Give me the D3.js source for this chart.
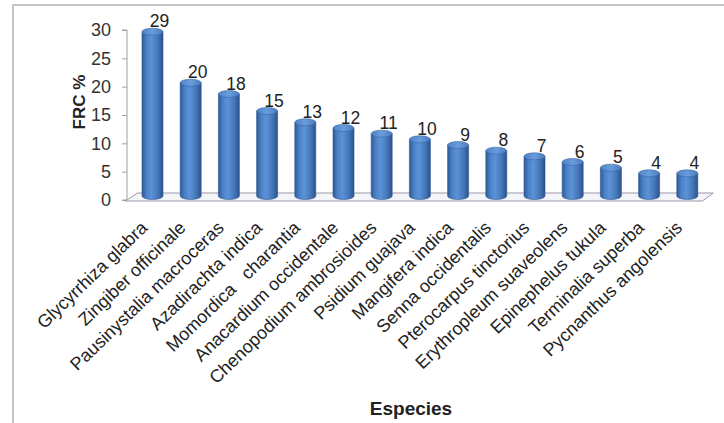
<!DOCTYPE html>
<html>
<head>
<meta charset="utf-8">
<script src="https://cdn.jsdelivr.net/npm/d3@7"></script>
<style>
  html, body { margin: 0; padding: 0; background: #fff; }
  svg { display: block; font-family: "Liberation Sans", Arial, sans-serif; }
</style>
</head>
<body>
<svg id="chart" width="724" height="423"></svg>
<script>
// Species and their FRC % values
const species = [
  "Glycyrrhiza glabra", "Zingiber officinale", "Pausinystalia macroceras",
  "Azadirachta indica", "Momordica   charantia", "Anacardium occidentale",
  "Chenopodium ambrosioides", "Psidium guajava", "Mangifera indica",
  "Senna occidentalis", "Pterocarpus tinctorius", "Erythropleum suaveolens",
  "Epinephelus tukula", "Terminalia superba", "Pycnanthus angolensis"
];
const frc = [29, 20, 18, 15, 13, 12, 11, 10, 9, 8, 7, 6, 5, 4, 4];
const yTicks = [0, 5, 10, 15, 20, 25, 30];

const svg = d3.select("#chart");
const W = 724, H = 423;

// outer chart frame (top and left edges visible)
svg.append("path")
  .attr("d", `M13,${H} L13,5 L${W},5`)
  .attr("fill", "none").attr("stroke", "#c4c4c4").attr("stroke-width", 2);

const x = d3.scaleBand().domain(species).range([133.4, 706.4]).padding(0);
const y = d3.scaleLinear().domain([0, 30]).range([200, 30]);

// depth offset of the 3D floor
const depthX = 11, depthY = -8;
const y0 = y(0);
const fx0 = x.range()[0] - 8, fx1 = x.range()[1] - 4;

// gradients for the cylinder shading
const defs = svg.append("defs");
const body = defs.append("linearGradient").attr("id", "cylBody")
  .attr("x1", "0%").attr("x2", "100%").attr("y1", "0%").attr("y2", "0%");
[["0%", "#2d5a96"], ["22%", "#4c82c8"], ["45%", "#5b92d8"], ["75%", "#4577ba"], ["100%", "#2b538b"]]
  .forEach(([o, c]) => body.append("stop").attr("offset", o).attr("stop-color", c));
const topG = defs.append("linearGradient").attr("id", "cylTop")
  .attr("x1", "0%").attr("x2", "100%").attr("y1", "0%").attr("y2", "0%");
[["0%", "#4e82c6"], ["50%", "#6a9ddc"], ["100%", "#4a7cbe"]]
  .forEach(([o, c]) => topG.append("stop").attr("offset", o).attr("stop-color", c));

// floor
svg.append("path")
  .attr("d", `M${fx0},${y0 + 1} L${fx0 + depthX + 1},${y0 + 1 + depthY} L${fx1 + depthX},${y0 + 1 + depthY} L${fx1},${y0 + 1} Z`)
  .attr("fill", "#f4f5f8").attr("stroke", "#9a98a8").attr("stroke-width", 1);

// y axis
const yAxis = d3.axisLeft(y).tickValues(yTicks).tickSize(5).tickPadding(11);
const gy = svg.append("g").attr("transform", `translate(127,0)`).call(yAxis);
gy.select(".domain").attr("stroke", "#a0a0a0").attr("d", `M-5,${y(30)}H0V${y0}H-5`);
gy.selectAll(".tick line").attr("stroke", "#a0a0a0");
gy.selectAll(".tick text")
  .attr("fill", "#333").attr("font-size", 18)
  .attr("font-family", "'Liberation Sans', Arial, sans-serif");

// cylinders
const rx = 10.5, ry = 3.5, lift = -4;
const bars = svg.append("g").selectAll("g").data(species).join("g");
bars.each(function (d, i) {
  const g = d3.select(this);
  const cx = x(d) + x.bandwidth() / 2;
  const yb = y0 + lift;
  const yt = y(frc[i]) + lift;
  g.append("path")
    .attr("d", `M${cx - rx},${yt} L${cx - rx},${yb} A${rx},${ry} 0 0 0 ${cx + rx},${yb} L${cx + rx},${yt} Z`)
    .attr("fill", "url(#cylBody)").attr("stroke", "#2b5590").attr("stroke-width", 0.6);
  g.append("ellipse")
    .attr("cx", cx).attr("cy", yt).attr("rx", rx).attr("ry", ry)
    .attr("fill", "url(#cylTop)").attr("stroke", "#3767a6").attr("stroke-width", 0.6);
  g.append("text")
    .attr("x", cx + 7).attr("y", yt - ry - 1)
    .attr("text-anchor", "middle").attr("font-size", 17.5).attr("fill", "#222")
    .text(frc[i]);
});

// category labels, rotated
svg.append("g").selectAll("text").data(species).join("text")
  .attr("transform", d => `translate(${x(d) + x.bandwidth() / 2 - 4},229) rotate(-44)`)
  .attr("text-anchor", "end").attr("font-size", 18).attr("fill", "#222")
  .attr("xml:space", "preserve").style("white-space", "pre")
  .text(d => d);

// axis titles
svg.append("text")
  .attr("transform", `translate(85,102) rotate(-90)`)
  .attr("text-anchor", "middle").attr("font-size", 17).attr("font-weight", "bold").attr("fill", "#222")
  .text("FRC %");
svg.append("text")
  .attr("x", 411).attr("y", 415)
  .attr("text-anchor", "middle").attr("font-size", 19).attr("font-weight", "bold").attr("fill", "#222")
  .text("Especies");
</script>
</body>
</html>
